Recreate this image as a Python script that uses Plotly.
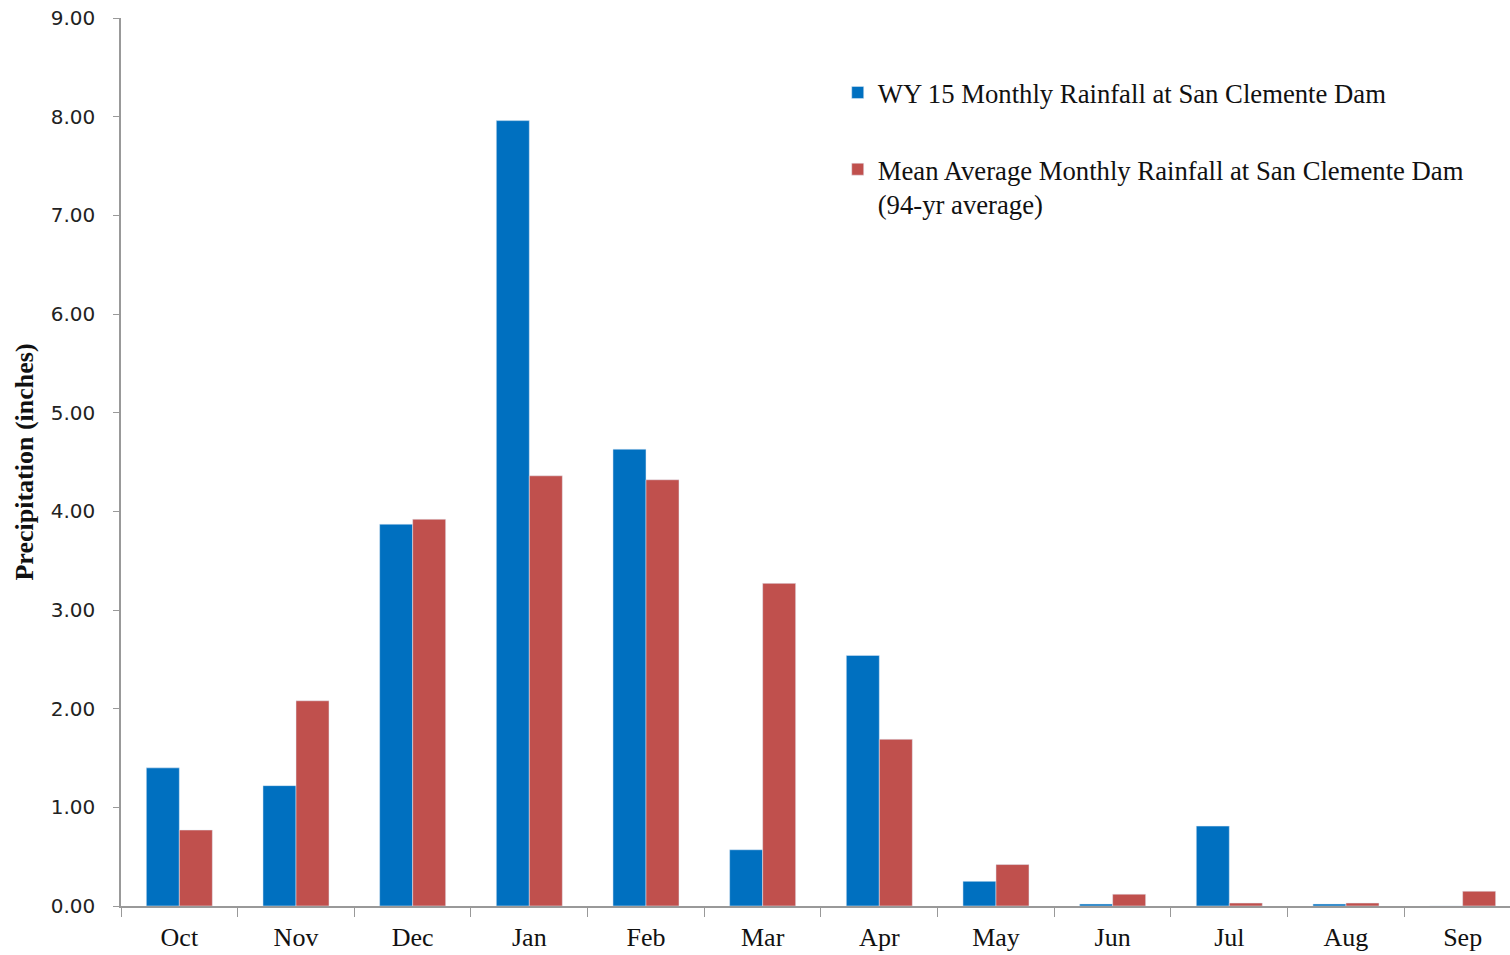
import plotly.graph_objects as go

months = ["Oct", "Nov", "Dec", "Jan", "Feb", "Mar", "Apr", "May", "Jun", "Jul", "Aug", "Sep"]
wy15 = [1.40, 1.22, 3.87, 7.96, 4.63, 0.57, 2.54, 0.25, 0.02, 0.81, 0.02, 0.00]
mean94 = [0.77, 2.08, 3.92, 4.36, 4.32, 3.27, 1.69, 0.42, 0.12, 0.03, 0.03, 0.15]
yticks = [0, 1, 2, 3, 4, 5, 6, 7, 8, 9]
ytick_text = ["%.2f" % v for v in yticks]

fig = go.Figure()
fig.add_trace(go.Bar(x=months, y=wy15, name="WY 15 Monthly Rainfall at San Clemente Dam",
                     marker=dict(color="#0070C0"), legendgroup="a"))
fig.add_trace(go.Bar(x=months, y=mean94,
                     name="Mean Average Monthly Rainfall at San Clemente Dam<br>(94-yr average)",
                     marker=dict(color="#C0504D"), legendgroup="b"))

fig.update_layout(
    width=1510, height=955,
    margin=dict(l=121, r=0, t=18, b=49, autoexpand=False),
    paper_bgcolor="white", plot_bgcolor="white",
    barmode="group", bargap=0.434, bargroupgap=0,
    legend=dict(x=0.516, y=0.943, xanchor="left", yanchor="top", valign="top",
                font=dict(family="Liberation Serif", size=26.7, color="#111"),
                traceorder="grouped", tracegroupgap=39, bgcolor="rgba(0,0,0,0)"),
    xaxis=dict(range=[-0.5, 11.406], showline=True, linecolor="#999", linewidth=1.5,
               ticks="outside", tickson="boundaries", ticklen=9, tickcolor="#999",
               ticklabelstandoff=7,
               tickfont=dict(family="Liberation Serif", size=26, color="#111"),
               showgrid=False, zeroline=False),
    yaxis=dict(range=[0, 9], tickvals=yticks, ticktext=ytick_text, showline=True,
               linecolor="#999", linewidth=1.5, ticks="outside", ticklen=6, tickcolor="#999",
               tickfont=dict(family="DejaVu Sans", size=20, color="#222"),
               ticklabelstandoff=14,
               showgrid=False, zeroline=False,
               title=dict(text="<b>Precipitation (inches)</b>",
                          font=dict(family="Liberation Serif", size=26, color="#111"),
                          standoff=10)),
)

fig.write_html("out.html", config={"displayModeBar": False},
               post_script="document.body.style.margin='0px';")
